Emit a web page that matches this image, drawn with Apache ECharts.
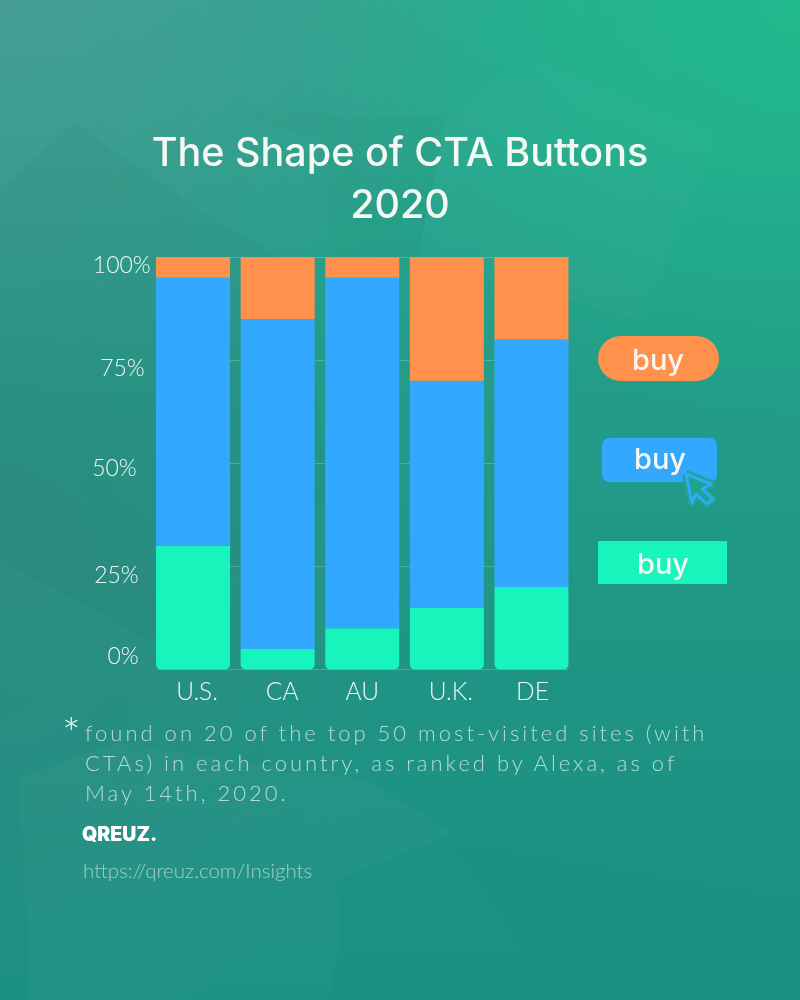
<!DOCTYPE html>
<html><head><meta charset="utf-8">
<style>
html,body{margin:0;padding:0;width:800px;height:1000px;overflow:hidden}
#bg{position:absolute;left:0;top:0;width:800px;height:1000px;
background:
 radial-gradient(ellipse 520px 420px at 0px 0px, rgba(90,150,150,.6), rgba(90,150,150,0) 100%),
 radial-gradient(ellipse 500px 420px at 800px 0px, rgba(30,190,140,.8), rgba(30,190,140,0) 100%),
 radial-gradient(ellipse 420px 500px at 0px 560px, rgba(60,130,125,.45), rgba(60,130,125,0) 100%),
 linear-gradient(180deg,#2aa890 0%,#229c88 40%,#1f9484 70%,#1a9084 100%);}
#c{position:absolute;left:0;top:0;width:800px;height:1000px}
.note{position:absolute;left:85px;top:718px;width:680px;font:300 22px/30px Lato,sans-serif;letter-spacing:3px;color:rgba(255,255,255,.66);white-space:nowrap}
</style></head><body>
<div id="bg"></div><div id="c"></div>
<div class="note">found on 20 of the top 50 most-visited sites (with<br>CTAs) in each country, as ranked by Alexa, as of<br>May 14th, 2020.</div>
<script src="https://cdn.jsdelivr.net/npm/echarts@6/dist/echarts.min.js"></script>
<script>
const categories=['U.S.','CA','AU','U.K.','DE'];
const sharp=[30,5,10,15,20];
const rounded=[65,80,85,55,60];
const pill=[5,15,5,30,20];
const tickLabels=['0%','25%','50%','75%','100%'];
const chart=echarts.init(document.getElementById('c'),null,{renderer:'canvas'});
const FONT='Inter';
const LABEL={fontFamily:'Lato',fontWeight:300,color:'#f2f7f5'};
const yPad=[[0,12,25,0],[18,12,0,0],[10,14,0,0],[16,6,0,0],[18,0,0,0]];
const xPad=[8,9,0,8,2];
const yRich={},xRich={};
tickLabels.forEach((t,i)=>{yRich['l'+i]=Object.assign({fontSize:23,padding:yPad[i]},LABEL);});
categories.forEach((c,i)=>{xRich['c'+i]=Object.assign({fontSize:24.5,padding:[0,0,0,xPad[i]]},LABEL);});
function btn(x,y,w,h,r,fill,tx,ty){return [
 {type:'rect',shape:{x,y,width:w,height:h,r},style:{fill}},
 {type:'text',style:{x:tx,y:ty,text:'buy',fill:'#f7f7f2',fontFamily:FONT,fontWeight:500,fontSize:29,textAlign:'center',textVerticalAlign:'middle'}}
];}
function facet(points,fill){return {type:'polygon',z:-10,silent:true,shape:{points},style:{fill}};}
const arrow=[[686,474],[711,484],[702,489],[713,499],[707,504],[696,494],[692,503],[686,474]];
chart.setOption({
 animation:false,
 grid:[
  {left:150.75,right:226.25,top:257,bottom:330.5},
  {left:156,right:232,top:257,bottom:330.5}
 ],
 title:{text:'The Shape of CTA Buttons\n2020',left:395,textAlign:'center',top:123,
  textStyle:{color:'#f5f7f3',fontFamily:FONT,fontWeight:500,fontSize:39.5,lineHeight:52}},
 xAxis:[
  {type:'category',data:categories,axisLine:{show:false},axisTick:{show:false},
   axisLabel:{margin:10,formatter:v=>`{c${categories.indexOf(v)}|${v}}`,rich:xRich}},
  {type:'value',gridIndex:1,min:0,max:1,show:false}
 ],
 yAxis:[
  {type:'value',min:0,max:100,interval:25,axisLine:{show:false},axisTick:{show:false},splitLine:{show:false},
   axisLabel:{margin:0,formatter:v=>`{l${v/25}|${tickLabels[v/25]}}`,rich:yRich}},
  {type:'value',gridIndex:1,min:0,max:100,interval:25,axisLine:{show:false},axisTick:{show:false},axisLabel:{show:false},
   splitLine:{lineStyle:{color:'rgba(255,255,255,.2)',width:1}}}
 ],
 series:[
  {name:'square',type:'bar',stack:'a',barWidth:74,data:sharp,itemStyle:{color:'#17F4BC',borderRadius:[0,0,5,5]}},
  {name:'rounded',type:'bar',stack:'a',data:rounded,itemStyle:{color:'#33A8FF'}},
  {name:'pill',type:'bar',stack:'a',data:pill,itemStyle:{color:'#FF914D'}}
 ],
 graphic:[
  facet([[0,190],[74,123],[204,213],[300,270],[330,500],[150,640],[0,560]],'rgba(20,70,70,.045)'),
  facet([[209,112],[446,117],[418,256],[330,270],[327,140]],'rgba(20,80,70,.03)'),
  facet([[446,117],[530,57],[719,133],[640,320],[418,256]],'rgba(255,255,255,.018)'),
  facet([[20,777],[117,743],[367,780],[454,833],[337,880],[342,937],[327,1000],[30,1000]],'rgba(255,255,255,.025)'),
  facet([[450,840],[800,900],[800,1000],[560,1000]],'rgba(0,50,50,.02)'),
  ...btn(598,336,121,45,22.5,'#FF914D',658,361),
  ...btn(602,438,115,44,7,'#33A8FF',660,460),
  ...btn(598,541,129,43,0,'#17F4BC',663,565),
  {type:'polyline',shape:{points:arrow},style:{fill:'#1fa58c',stroke:'#1fa58c',lineWidth:8,lineJoin:'round'}},
  {type:'polyline',shape:{points:arrow},style:{fill:'#1fa58c',stroke:'#33A8FF',lineWidth:3,lineJoin:'round'}},
  {type:'text',style:{x:62,y:714,text:'*',fill:'#f2f7f5',fontFamily:'Lato',fontWeight:300,fontSize:44}},
  {type:'text',style:{x:82,y:825,text:'QREUZ.',fill:'#ffffff',fontFamily:FONT,fontWeight:900,fontSize:19.5}},
  {type:'text',style:{x:83,y:861,text:'https://qreuz.com/Insights',fill:'rgba(255,255,255,.55)',fontFamily:'Lato',fontWeight:300,fontSize:20.5}}
 ]
});
</script></body></html>
